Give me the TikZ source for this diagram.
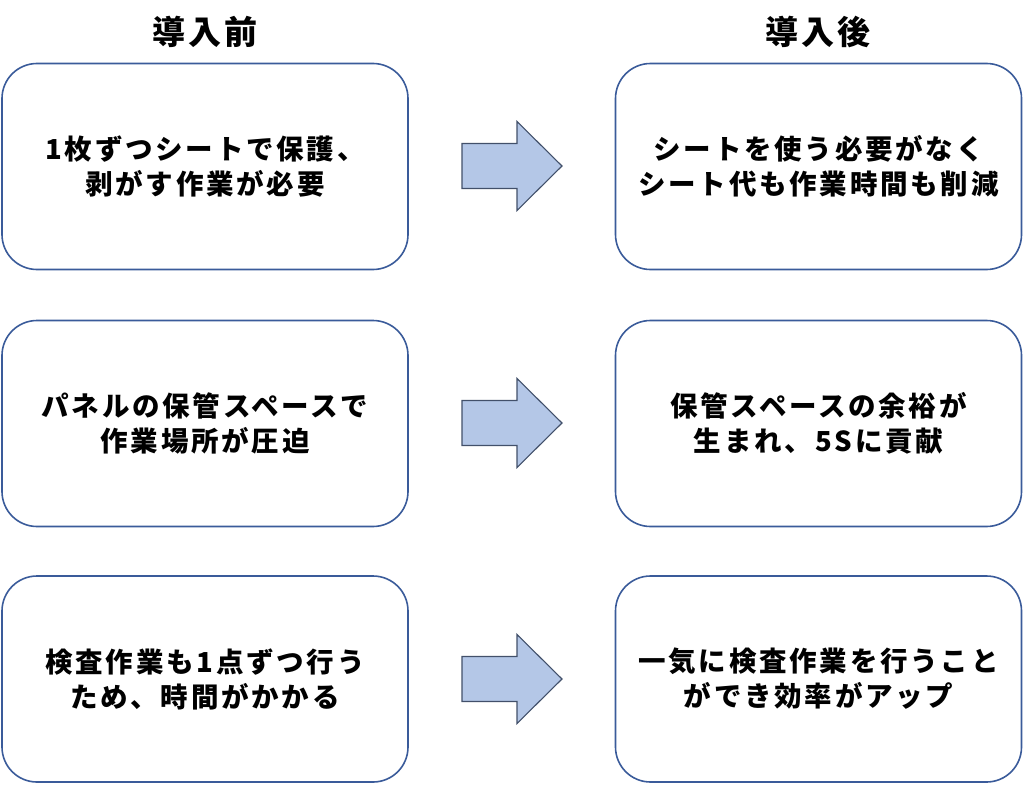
\documentclass[tikz,border=0pt]{standalone}
\usepackage{fontspec}
\newfontfamily\jp[LetterSpace=10]{Noto Sans CJK JP}
\definecolor{boxline}{HTML}{3A5B9A}
\definecolor{arrfill}{HTML}{B4C7E7}
\definecolor{arrline}{HTML}{42506A}
\tikzset{
  card/.style={draw=boxline, line width=1.6pt, rounded corners=35pt, fill=white,
    minimum width=406pt, minimum height=206pt, inner sep=0pt, align=center,
    font=\jp\bfseries\fontsize{27.5}{35}\selectfont},
  head/.style={font=\jp\bfseries\fontsize{33}{38}\selectfont, inner sep=0pt},
  bigarrow/.style={draw=arrline, fill=arrfill, line width=1.1pt, line join=miter}
}
\begin{document}
\begin{tikzpicture}[x=1pt,y=-1pt]
\useasboundingbox (0,0) rectangle (1024,784);
\node[head] (h1) at (205,32) {導入前};
\node[head] (h2) at (818,32) {導入後};
\node[card] (l1) at (205,166.5) {1枚ずつシートで保護、\\剥がす作業が必要};
\node[card] (r1) at (818.5,166.5) {シートを使う必要がなく\\シート代も作業時間も削減};
\node[card] (l2) at (205,423.5) {パネルの保管スペースで\\作業場所が圧迫};
\node[card] (r2) at (818.5,423.5) {保管スペースの余裕が\\生まれ、5Sに貢献};
\node[card] (l3) at (205,679) {検査作業も1点ずつ行う\\ため、時間がかかる};
\node[card] (r3) at (818.5,679) {一気に検査作業を行うこと\\ができ効率がアップ};
\foreach \y in {166,423,679}{
  \draw[bigarrow] (462,\y-22.5) -- (517,\y-22.5) -- (517,\y-44.5) -- (562,\y)
    -- (517,\y+44.5) -- (517,\y+22.5) -- (462,\y+22.5) -- cycle;
}
\end{tikzpicture}
\end{document}
